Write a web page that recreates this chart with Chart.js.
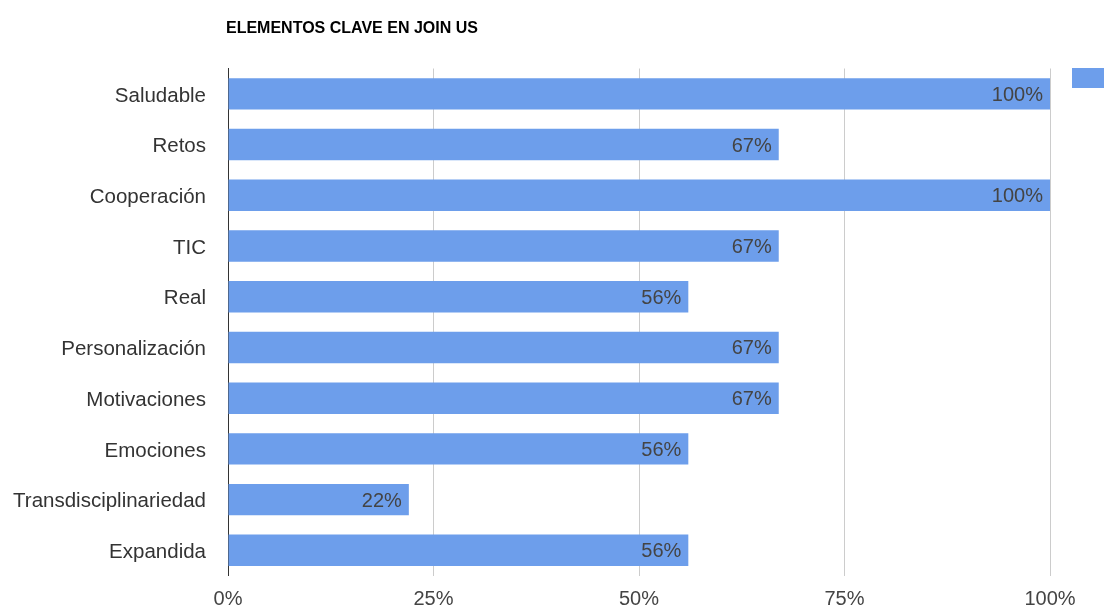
<!DOCTYPE html>
<html>
<head>
<meta charset="utf-8">
<script src="https://cdn.jsdelivr.net/npm/chart.js@4/dist/chart.umd.min.js"></script>
<style>
  html, body { margin: 0; padding: 0; background: #fff; overflow: hidden; }
  #wrap { width: 1104px; height: 610px; position: relative; }
</style>
</head>
<body>
<div id="wrap"><canvas id="chart" width="1104" height="610"></canvas></div>
<script>
const chartTitle = 'ELEMENTOS CLAVE EN JOIN US';
const categories = ['Saludable', 'Retos', 'Cooperación', 'TIC', 'Real', 'Personalización',
  'Motivaciones', 'Emociones', 'Transdisciplinariedad', 'Expandida'];
const percentages = [100, 67, 100, 67, 56, 67, 67, 56, 22, 56];
const xTicks = [0, 25, 50, 75, 100];

const FONT = '"Liberation Sans", Arial, sans-serif';
const BAR_COLOR = '#6d9eeb';

// Title at top left of the plot, value labels inside bar ends, and the legend swatch
const decorations = {
  id: 'decorations',
  afterDatasetsDraw(chart) {
    const { ctx, chartArea } = chart;
    const meta = chart.getDatasetMeta(0);
    ctx.save();
    ctx.font = '20px ' + FONT;
    ctx.fillStyle = '#444';
    ctx.textAlign = 'right';
    ctx.textBaseline = 'middle';
    meta.data.forEach((bar, i) => {
      ctx.fillText(percentages[i] + '%', bar.x - 7, bar.y + 1.5);
    });
    ctx.textAlign = 'left';
    ctx.fillStyle = '#000';
    ctx.font = 'bold 16px ' + FONT;
    ctx.fillText(chartTitle, chartArea.left - 2, 28.5);
    ctx.fillStyle = chart.data.datasets[0].backgroundColor;
    ctx.fillRect(chartArea.right + 22, 68, 60, 20);
    ctx.restore();
  }
};

new Chart(document.getElementById('chart'), {
  type: 'bar',
  data: {
    labels: categories,
    datasets: [{
      label: '%',
      data: percentages,
      backgroundColor: BAR_COLOR,
      borderWidth: 0,
      categoryPercentage: 1,
      barPercentage: 0.62
    }]
  },
  options: {
    indexAxis: 'y',
    responsive: false,
    animation: false,
    layout: { padding: { left: 0, right: 54, top: 68.5, bottom: 0 } },
    plugins: {
      legend: { display: false },
      title: { display: false },
      tooltip: { enabled: false }
    },
    scales: {
      x: {
        min: 0,
        max: 100,
        afterBuildTicks(scale) { scale.ticks = xTicks.map(v => ({ value: v })); },
        afterFit(scale) { scale.height = 32; },
        grid: {
          color: '#cccccc',
          lineWidth: 1,
          drawTicks: false
        },
        border: { display: false },
        ticks: {
          padding: 12,
          color: '#444',
          font: { family: FONT, size: 20 },
          callback: v => v + '%'
        }
      },
      y: {
        afterFit(scale) { scale.width = 228; },
        grid: { display: false, drawTicks: false },
        border: { display: true, color: '#333', width: 1 },
        ticks: {
          padding: 22,
          labelOffset: 2,
          color: '#333',
          font: { family: FONT, size: 20.5 }
        }
      }
    }
  },
  plugins: [decorations]
});
</script>
</body>
</html>
